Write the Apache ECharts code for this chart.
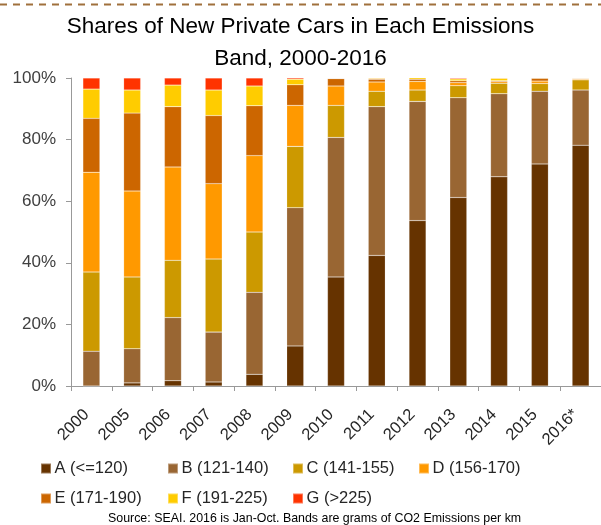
<!DOCTYPE html>
<html>
<head>
<meta charset="utf-8">
<script src="https://cdn.jsdelivr.net/npm/echarts@6/dist/echarts.min.js"></script>
<style>
  html, body { margin: 0; padding: 0; background: #fff; }
  #chart { width: 601px; height: 525px; }
</style>
</head>
<body>
<div id="chart"></div>
<script>
// Years and share (%) of new private cars in each CO2 emissions band
const years = ['2000', '2005', '2006', '2007', '2008', '2009', '2010', '2011', '2012', '2013', '2014', '2015', '2016*'];
const bandNames = ['A (<=120)', 'B (121-140)', 'C (141-155)', 'D (156-170)', 'E (171-190)', 'F (191-225)', 'G (>225)'];
const bandA = [0, 1.0, 1.7, 1.3, 3.8, 13.0, 35.4, 42.4, 53.7, 61.2, 67.9, 72.1, 78.2];
const bandB = [11.3, 11.1, 20.5, 16.2, 26.6, 44.9, 45.3, 48.3, 38.7, 32.4, 27.0, 23.6, 17.9];
const bandC = [25.7, 23.3, 18.6, 23.7, 19.6, 19.9, 10.4, 5.0, 3.7, 3.9, 3.4, 2.5, 3.3];
const bandD = [32.4, 27.9, 30.3, 24.5, 24.8, 13.3, 6.3, 3.0, 2.8, 1.0, 0.5, 0.8, 0.3];
const bandE = [17.5, 25.3, 19.6, 22.1, 16.2, 6.7, 2.4, 0.9, 0.7, 0.6, 0.3, 0.9, 0.2];
const bandF = [9.5, 7.5, 7.0, 8.3, 6.4, 1.8, 0.1, 0.3, 0.6, 0.6, 0.8, 0.3, 0.2];
const bandG = [3.6, 3.9, 2.3, 3.9, 2.6, 0.4, 0.1, 0.3, 0.4, 0.3, 0.3, 0.1, 0.1];
const yTicks = [0, 20, 40, 60, 80, 100];

const bandData = [bandA, bandB, bandC, bandD, bandE, bandF, bandG];
const bandColors = ['#663300', '#996633', '#CC9900', '#FF9900', '#CC6600', '#FFCC00', '#FF3300'];

const font = '"Liberation Sans", Arial, sans-serif';

const series = bandNames.map((name, i) => ({
  name: name,
  type: 'bar',
  stack: 'share',
  barWidth: 17,
  data: bandData[i],
  itemStyle: { color: bandColors[i], borderColor: 'rgba(255,255,255,0.35)', borderWidth: 0.5 }
}));

// Legend laid out as a 4-column grid across two rows
const legendCols = [40, 167, 292, 418];
const legendRows = [460, 490];
const legends = bandNames.map((name, i) => ({
  data: [name],
  left: legendCols[i % 4],
  top: legendRows[Math.floor(i / 4)],
  padding: 0,
  itemWidth: 10,
  itemHeight: 10,
  itemGap: 0,
  icon: 'rect',
  selectedMode: false,
  textStyle: { fontFamily: font, fontSize: 16.5, color: '#262626', padding: [0, 0, 0, -1.5] }
}));

const chart = echarts.init(document.getElementById('chart'), null, { renderer: 'canvas' });
chart.setOption({
  animation: false,
  backgroundColor: '#ffffff',
  graphic: [{
    type: 'line',
    shape: { x1: 0, y1: 4.5, x2: 601, y2: 4.5 },
    style: { stroke: '#A0703C', lineWidth: 2, lineDash: [7, 6] },
    silent: true
  }],
  title: [{
    text: 'Shares of New Private Cars in Each Emissions\nBand, 2000-2016',
    left: 'center',
    top: 6,
    textStyle: { fontFamily: font, fontSize: 22.5, fontWeight: 'normal', color: '#000', lineHeight: 32 }
  }, {
    text: 'Source: SEAI. 2016 is Jan-Oct. Bands are grams of CO2 Emissions per km',
    left: 103,
    top: 508,
    textStyle: { fontFamily: font, fontSize: 12.4, fontWeight: 'normal', color: '#000' }
  }],
  legend: legends,
  grid: { left: 71, right: 0, top: 78, bottom: 139, containLabel: false },
  xAxis: {
    type: 'category',
    data: years,
    axisLine: { show: true, lineStyle: { color: '#999999', width: 1 } },
    axisTick: { show: true, interval: 0, length: 5, lineStyle: { color: '#999999' } },
    axisLabel: { interval: 0, rotate: 45, fontFamily: font, fontSize: 16.5, color: '#262626', margin: 21, padding: [0, 7, 0, 0] }
  },
  yAxis: {
    type: 'value',
    min: yTicks[0],
    max: yTicks[yTicks.length - 1],
    interval: 20,
    splitLine: { show: false },
    axisLine: { show: true, lineStyle: { color: '#999999', width: 1 } },
    axisTick: { show: true, length: 5, lineStyle: { color: '#999999' } },
    axisLabel: { formatter: '{value}%', fontFamily: font, fontSize: 17, color: '#404040', margin: 15 }
  },
  series: series
});
</script>
</body>
</html>
